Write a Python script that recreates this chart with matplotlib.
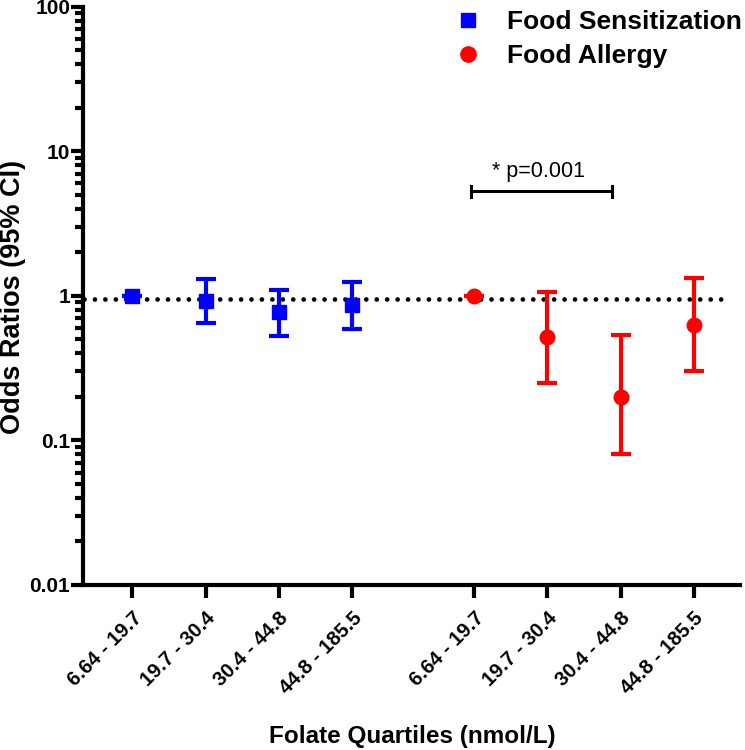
import numpy as np
import matplotlib
matplotlib.use("Agg")
import matplotlib.pyplot as plt
from matplotlib.lines import Line2D
from matplotlib.ticker import LogLocator, NullFormatter, FixedLocator

plt.rcParams['font.family'] = ['Liberation Sans', 'DejaVu Sans']

# data
quartiles = ["6.64 - 19.7", "19.7 - 30.4", "30.4 - 44.8", "44.8 - 185.5"]
sens_or = [1.0, 0.92, 0.775, 0.866]
sens_lo = [1.0, 0.65, 0.53, 0.59]
sens_hi = [1.0, 1.31, 1.10, 1.25]
allergy_or = [1.0, 0.52, 0.20, 0.63]
allergy_lo = [1.0, 0.25, 0.08, 0.30]
allergy_hi = [1.0, 1.07, 0.54, 1.33]
ref_line = 0.95

x_sens = np.arange(4)
x_all = np.arange(4) + 4.67

fig = plt.figure(figsize=(7.45, 7.5), dpi=100)
ax = fig.add_axes([0.111, 0.22, 0.882, 0.771])

ax.set_yscale("log")
ax.set_ylim(0.01, 100)
ax.set_xlim(-0.68, 8.3)

# reference line
ax.plot([-0.66, 8.12], [ref_line, ref_line], color="black", lw=3.4,
        linestyle=(0, (0.01, 2.2)), dash_capstyle="round", zorder=1)

def err(vals, lo, hi):
    v = np.array(vals); return [v - np.array(lo), np.array(hi) - v]

blue = "#0000ff"
red = "#ff0000"
ax.errorbar(x_sens, sens_or, yerr=err(sens_or, sens_lo, sens_hi), fmt="s",
            color=blue, ms=10, elinewidth=3, capsize=7, capthick=3, zorder=3)
ax.errorbar(x_all, allergy_or, yerr=err(allergy_or, allergy_lo, allergy_hi), fmt="o",
            color=red, ms=10.5, elinewidth=3, capsize=7, capthick=3, zorder=3)

# significance bracket
yb = 5.3
ax.plot([4.62, 6.56], [yb, yb], color="black", lw=2.2)
ax.plot([4.62, 4.62], [yb / 1.09, yb * 1.09], color="black", lw=2.2)
ax.plot([6.56, 6.56], [yb / 1.09, yb * 1.09], color="black", lw=2.2)
ax.text(5.55, yb * 1.16, "* p=0.001", ha="center", va="bottom", fontsize=15.5)

# axes styling
for s in ["top", "right"]:
    ax.spines[s].set_visible(False)
for s in ["left", "bottom"]:
    ax.spines[s].set_linewidth(3)

ax.yaxis.set_major_locator(FixedLocator([0.01, 0.1, 1, 10, 100]))
ax.set_yticklabels(["0.01", "0.1", "1", "10", "100"], fontsize=15, fontweight="bold")
ax.yaxis.set_minor_locator(LogLocator(base=10, subs=np.arange(2, 10)))
ax.yaxis.set_minor_formatter(NullFormatter())
ax.tick_params(axis="y", which="major", length=9, width=3, pad=0)
ax.tick_params(axis="y", which="minor", length=6, width=3)

ax.set_xticks(np.concatenate([x_sens, x_all]))
ax.set_xticklabels(quartiles + quartiles, rotation=45, ha="right",
                   rotation_mode="anchor", fontsize=14.5, fontweight="bold")
ax.tick_params(axis="x", length=9, width=3, pad=8)

fig.text(13 / 745, 1 - 297 / 750, "Odds Ratios (95% CI)", rotation=90,
         ha="center", va="center", fontsize=19.5, fontweight="bold")
fig.text(412 / 745, 1 - 736 / 750, "Folate Quartiles (nmol/L)",
         ha="center", va="center", fontsize=17.5, fontweight="bold")

handles = [Line2D([], [], ls="none", marker="s", color=blue, ms=10),
           Line2D([], [], ls="none", marker="o", color=red, ms=11)]
ax.legend(handles, ["Food Sensitization", "Food Allergy"], loc="upper left",
          bbox_to_anchor=(0.53, 1.035), frameon=False,
          prop={"weight": "bold", "size": 19}, handletextpad=1.0,
          labelspacing=0.38, handlelength=1.0)

fig.savefig("out.png", dpi=100)
